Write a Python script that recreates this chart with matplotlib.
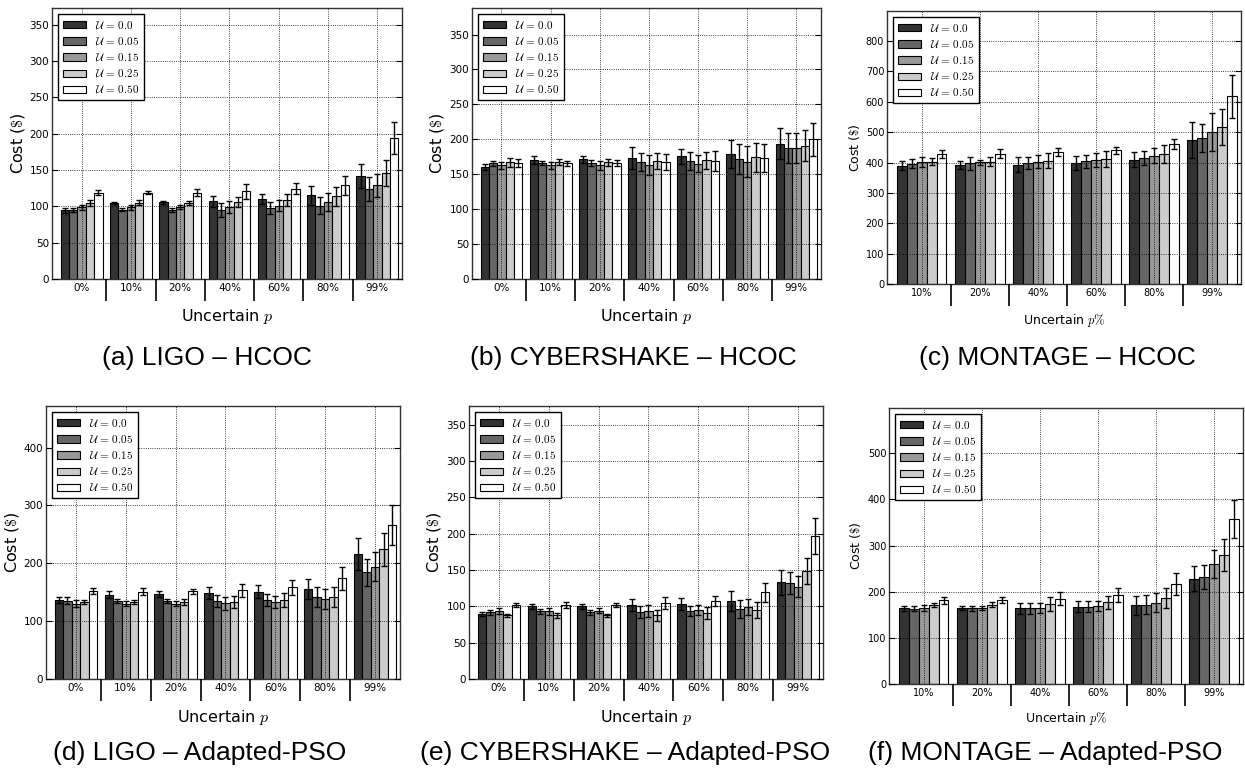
import numpy as np
import matplotlib
matplotlib.use('Agg')
from matplotlib import pyplot as plt

plt.rcParams['mathtext.fontset'] = 'cm'
plt.rcParams['font.family'] = 'DejaVu Sans'

W, H = 1245, 774

cats7 = ['0%', '10%', '20%', '40%', '60%', '80%', '99%']
cats6 = ['10%', '20%', '40%', '60%', '80%', '99%']
u_labels = [r'$\mathcal{U}\,=\,0.0$', r'$\mathcal{U}\,=\,0.05$', r'$\mathcal{U}\,=\,0.15$',
            r'$\mathcal{U}\,=\,0.25$', r'$\mathcal{U}\,=\,0.50$']
bar_colors = ['#333333', '#666666', '#999999', '#cccccc', '#ffffff']

# (a) LIGO - HCOC, one row per U
ligo_hcoc = [[94.5, 104.6, 105.5, 107, 110, 115, 141.7],
             [95.4, 95.4, 95.4, 95, 97.7, 101, 124],
             [99, 99, 99, 99, 101, 106, 129],
             [105, 105, 105, 105.5, 109, 114, 146],
             [119, 119, 119, 120.6, 124, 129, 194]]
ligo_hcoc_err = [[3.5, 1.5, 2, 7.5, 7, 13, 16.5],
                 [2.5, 2, 3, 9, 8, 11.5, 16],
                 [3.5, 3.5, 2.5, 8.5, 7.5, 12, 16],
                 [4, 3.5, 3, 7, 8, 13, 17.5],
                 [3, 2.5, 4.5, 10, 7.5, 13, 22.5]]

# (b) CYBERSHAKE - HCOC
cyber_hcoc = [[160.7, 170.7, 171.7, 173.6, 175.5, 179, 194],
              [166, 166, 166, 167.4, 168.8, 172, 187.4],
              [162.6, 162.6, 162.6, 163.6, 165, 167.9, 187.4],
              [167.4, 167.4, 167.4, 168.8, 170, 174, 191],
              [166, 166, 166, 167.4, 168.8, 172.6, 200]]
cyber_hcoc_err = [[4.5, 6, 5, 15.5, 11, 19.5, 21.5],
                  [3.5, 3, 4, 12.5, 12.5, 21, 21],
                  [5, 5, 6, 14, 12.5, 22, 21.5],
                  [6.5, 4, 5, 11.5, 12.5, 21, 22],
                  [5.5, 3.5, 4, 12, 14, 20, 24]]

# (c) MONTAGE - HCOC
montage_hcoc = [[389.7, 390.8, 393, 398.5, 409.4, 474],
                [396, 397, 398.5, 404, 415, 479.7],
                [400.7, 400.7, 403, 408, 422.6, 499.5],
                [403, 403, 406, 411.6, 428, 517],
                [427, 429, 433.6, 440, 461, 618]]
montage_hcoc_err = [[14, 13, 24, 22, 25, 58],
                    [14, 20, 21, 21, 23, 46],
                    [16, 9, 22, 24, 24, 62],
                    [12, 15, 24, 26, 29, 59],
                    [13, 14, 13, 11, 15, 70]]

# (d) LIGO - Adapted-PSO
ligo_pso = [[136, 146, 147, 148.9, 151, 155.7, 216],
            [135, 135, 135, 135, 136.8, 141.4, 184.5],
            [130, 130.5, 130.5, 131, 132.8, 138, 194],
            [133, 133, 133, 133, 136, 141.4, 224],
            [152, 150.6, 151.7, 153.4, 158.6, 174, 266]]
ligo_pso_err = [[5, 6, 4.5, 10, 11, 18, 27],
                [6, 4, 4, 10, 10, 17, 23],
                [6, 4, 3.5, 11, 10, 17, 25],
                [4, 4, 5, 11, 12, 17, 28],
                [5, 6, 4.5, 11, 13, 20, 34]]

# (e) CYBERSHAKE - Adapted-PSO
cyber_pso = [[89.3, 99.9, 99.9, 101.7, 103.5, 107.6, 133.3],
             [92, 93.4, 91.6, 92.5, 93.4, 96.2, 132],
             [93.4, 93.4, 93.9, 93.4, 94.8, 99, 127.3],
             [87.5, 87.5, 87.5, 87.5, 90.7, 95, 149.3],
             [101.7, 101.7, 101.7, 104.4, 107, 119.6, 196.5]]
cyber_pso_err = [[3, 3, 4, 8, 8, 14, 17],
                 [3.5, 3.5, 4, 8, 7, 12, 15.5],
                 [4.5, 5, 3.5, 8, 7, 11, 15],
                 [2.5, 4, 2, 7, 8, 11, 18],
                 [2.5, 4, 2.5, 8, 7, 13, 25]]

# (f) MONTAGE - Adapted-PSO
montage_pso = [[164, 164, 164, 167, 170.5, 227.6],
               [163.3, 164, 164, 167, 172, 232.7],
               [164.7, 164, 165.5, 168.4, 176.3, 259.4],
               [171, 172, 173.4, 177, 185.7, 279.6],
               [181.4, 182, 185, 193.6, 216, 357]]
montage_pso_err = [[5, 4.5, 11.5, 12, 21, 27],
                   [5, 6, 11.5, 12, 21, 26],
                   [7, 4.5, 11, 11, 20, 30],
                   [5, 5.5, 14.5, 14, 22, 34],
                   [7, 6, 14, 15, 24, 41]]


def rect(l, t, r, b):
    return [l / W, 1 - b / H, (r - l) / W, (b - t) / H]


def panel(box, cats, means, errs, ymax, ystep, xlab, small, ylx, xly):
    ax = fig.add_axes(rect(*box))
    n = len(cats)
    x = np.arange(n)
    w = 0.17
    for k in range(5):
        ax.bar(x + (k - 2) * w, means[k], w, yerr=errs[k], color=bar_colors[k],
               edgecolor='k', linewidth=0.8, label=u_labels[k],
               error_kw=dict(ecolor='k', elinewidth=1, capsize=2.5, capthick=1))
    ax.set_xlim(-0.6, n - 0.5)
    ax.set_ylim(0, ymax)
    ax.set_yticks(np.arange(0, ymax, ystep))
    ax.set_xticks(x)
    ax.set_xticklabels(cats)
    ax.set_xticks(x[:-1] + 0.5, minor=True)
    ax.set_axisbelow(False)
    ax.grid(True, which='major', linestyle=':', color='k', linewidth=0.6)
    lab = 7 if small else 7.5
    ax.tick_params(axis='y', direction='in', length=4, left=True, right=True,
                   labelsize=lab, pad=2)
    ax.tick_params(axis='x', which='major', length=0, labelsize=lab, pad=3)
    ax.tick_params(axis='x', which='minor', direction='out', length=16, width=1.2)
    for s in ax.spines.values():
        s.set_linewidth(1.0)
        s.set_color('0.2')
    fs = 9 if small else 11.5
    ax.set_ylabel(r'Cost ($\$$)', fontsize=fs)
    ax.set_xlabel(xlab, fontsize=fs)
    ax.yaxis.set_label_coords(ylx, 0.5)
    ax.xaxis.set_label_coords(0.5, xly)
    leg = ax.legend(loc='upper left', fontsize=8, fancybox=False, framealpha=1,
                    edgecolor='k', borderaxespad=0.5, handlelength=2.1,
                    handleheight=0.66, labelspacing=0.38, borderpad=0.45,
                    handletextpad=0.8)
    leg.get_frame().set_linewidth(1.0)
    return ax


fig = plt.figure(figsize=(W / 100, H / 100), dpi=100)

panel((52, 8, 402, 279), cats7, ligo_hcoc, ligo_hcoc_err, 373, 50,
      r'Uncertain $p$', False, -0.071, -0.105)
panel((472, 8, 821, 279), cats7, cyber_hcoc, cyber_hcoc_err, 388, 50,
      r'Uncertain $p$', False, -0.075, -0.105)
panel((887, 11, 1241, 284), cats6, montage_hcoc, montage_hcoc_err, 899, 100,
      r'Uncertain $p\%$', True, -0.071, -0.103)
panel((46, 406, 400, 679), cats7, ligo_pso, ligo_pso_err, 472, 100,
      r'Uncertain $p$', False, -0.071, -0.105)
panel((469, 406, 823, 679), cats7, cyber_pso, cyber_pso_err, 376, 50,
      r'Uncertain $p$', False, -0.073, -0.105)
panel((889, 408, 1243, 684), cats6, montage_pso, montage_pso_err, 598, 100,
      r'Uncertain $p\%$', True, -0.073, -0.095)

captions = ['(a) LIGO – HCOC', '(b) CYBERSHAKE – HCOC', '(c) MONTAGE – HCOC',
            '(d) LIGO – Adapted-PSO', '(e) CYBERSHAKE – Adapted-PSO',
            '(f) MONTAGE – Adapted-PSO']
cap_x = [207, 633, 1057, 200, 625, 1045]
cap_y = [365, 365, 365, 760, 760, 760]
for txt, cx, cy in zip(captions, cap_x, cap_y):
    fig.text(cx / W, 1 - cy / H, txt, ha='center', va='baseline', fontsize=19,
             family='Liberation Sans')

fig.savefig('out.png', dpi=100, facecolor='white')
